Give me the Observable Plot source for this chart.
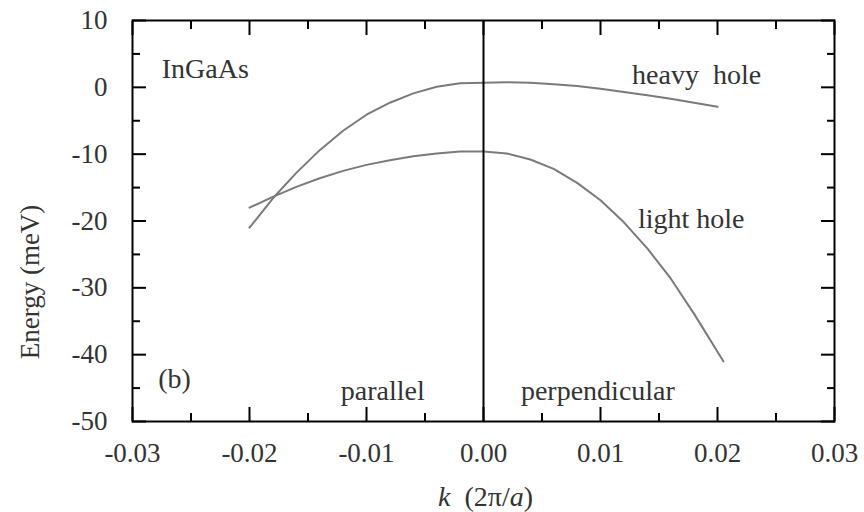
<!DOCTYPE html>
<html>
<head>
<meta charset="utf-8">
<script src="https://cdn.jsdelivr.net/npm/d3@7"></script>
<script src="https://cdn.jsdelivr.net/npm/@observablehq/plot@0.6"></script>
<style>
  html, body { margin: 0; padding: 0; background: #fff; }
  #chart svg { display: block; }
</style>
</head>
<body>
<div id="chart"></div>
<script>
// ---- data ----
const kParallel = [-0.020, -0.018, -0.016, -0.014, -0.012, -0.010, -0.008, -0.006, -0.004, -0.002, 0.000];
const heavyParallel = [-21.0, -16.6, -12.8, -9.4, -6.5, -4.1, -2.3, -0.9, 0.1, 0.6, 0.7];
const lightParallel = [-18.0, -16.4, -14.9, -13.6, -12.5, -11.6, -10.9, -10.3, -9.9, -9.6, -9.6];

const kPerpHeavy = [0.000, 0.002, 0.004, 0.006, 0.008, 0.010, 0.012, 0.014, 0.016, 0.018, 0.020];
const heavyPerp = [0.7, 0.75, 0.7, 0.45, 0.2, -0.2, -0.7, -1.2, -1.7, -2.3, -2.9];
const kPerpLight = [0.000, 0.002, 0.004, 0.006, 0.008, 0.010, 0.012, 0.014, 0.016, 0.018, 0.0205];
const lightPerp = [-9.6, -9.9, -10.8, -12.2, -14.3, -16.9, -20.2, -24.1, -28.6, -33.9, -41.0];

const bands = ["heavy hole", "light hole"];

const xMajorTicks = [-0.03, -0.02, -0.01, 0.00, 0.01, 0.02, 0.03];
const xMinorTicks = [-0.025, -0.015, -0.005, 0.005, 0.015, 0.025];
const xTickLabels = ["-0.03", "-0.02", "-0.01", "0.00", "0.01", "0.02", "0.03"];
const yMajorTicks = [-50, -40, -30, -20, -10, 0, 10];
const yMinorTicks = [-45, -35, -25, -15, -5, 5];
const yTickLabels = ["-50", "-40", "-30", "-20", "-10", "0", "10"];

const xTitle = "k  (2π/a)";
const yTitle = "Energy (meV)";
const annotations = ["InGaAs", "heavy  hole", "light hole", "(b)", "parallel", "perpendicular"];

// ---- build rows ----
const rows = [];
kParallel.forEach((k, i) => rows.push({band: bands[0], k, E: heavyParallel[i]}));
kPerpHeavy.slice(1).forEach((k, i) => rows.push({band: bands[0], k, E: heavyPerp[i + 1]}));
kParallel.forEach((k, i) => rows.push({band: bands[1], k, E: lightParallel[i]}));
kPerpLight.slice(1).forEach((k, i) => rows.push({band: bands[1], k, E: lightPerp[i + 1]}));

const xLabelOf = new Map(xMajorTicks.map((v, i) => [v, xTickLabels[i]]));
const yLabelOf = new Map(yMajorTicks.map((v, i) => [v, yTickLabels[i]]));

const serif = "'Liberation Serif', 'Times New Roman', serif";
const textColor = "#333";
const tickFs = 27;
const annFs = 28;

const annX = [-0.0275, 0.0127, 0.0132, -0.0278, -0.0122, 0.0032];
const annY = [2.76, 1.86, -19.7, -43.7, -45.5, -45.5];
const annRows = annotations.map((t, i) => ({t, x: annX[i], y: annY[i]}));

const tickStyle = {stroke: "black", strokeWidth: 2, tickFormat: () => "", label: null};

const plot = Plot.plot({
  width: 864,
  height: 512,
  marginLeft: 132,
  marginRight: 30,
  marginTop: 20,
  marginBottom: 91,
  style: {background: "white"},
  x: {domain: [-0.03, 0.03]},
  y: {domain: [-50, 10]},
  marks: [
    // inward ticks on all four sides
    Plot.axisX(xMajorTicks, {anchor: "bottom", tickSize: -14, ...tickStyle}),
    Plot.axisX(xMinorTicks, {anchor: "bottom", tickSize: -8, ...tickStyle}),
    Plot.axisX(xMajorTicks, {anchor: "top", tickSize: -14, ...tickStyle}),
    Plot.axisX(xMinorTicks, {anchor: "top", tickSize: -8, ...tickStyle}),
    Plot.axisY(yMajorTicks, {anchor: "left", tickSize: -14, ...tickStyle}),
    Plot.axisY(yMinorTicks, {anchor: "left", tickSize: -8, ...tickStyle}),
    Plot.axisY(yMajorTicks, {anchor: "right", tickSize: -14, ...tickStyle}),
    Plot.axisY(yMinorTicks, {anchor: "right", tickSize: -8, ...tickStyle}),
    // tick labels
    Plot.axisX(xMajorTicks, {anchor: "bottom", tickSize: 0, tickPadding: 21, tickFormat: d => xLabelOf.get(d),
      fontSize: tickFs, fill: textColor, label: null}),
    Plot.axisY(yMajorTicks, {anchor: "left", tickSize: 0, tickPadding: 25, tickFormat: d => yLabelOf.get(d),
      fontSize: tickFs, fill: textColor, label: null}),
    // curves
    Plot.line(rows, {x: "k", y: "E", z: "band", stroke: "#7a7a7a", strokeWidth: 2, curve: "linear"}),
    // k = 0 divider
    Plot.ruleX([0], {stroke: "black", strokeWidth: 2}),
    Plot.frame({stroke: "black", strokeWidth: 2}),
    // annotations
    Plot.text(annRows, {x: "x", y: "y", text: "t", textAnchor: "start", lineAnchor: "middle",
      fontSize: annFs, fill: textColor}),
    // axis titles
    Plot.text([yTitle], {frameAnchor: "left", dx: -102, dy: 61, rotate: -90, fontSize: 27, fill: textColor,
      textAnchor: "middle", lineAnchor: "middle"}),
    Plot.text([xTitle], {frameAnchor: "bottom", dx: 2, dy: 76, fontSize: 28, fill: textColor,
      textAnchor: "middle", lineAnchor: "middle"})
  ]
});

document.getElementById("chart").appendChild(plot);

// serif font on every text element
d3.select(plot).attr("font-family", serif).style("font-family", serif);
d3.select(plot).selectAll("g").attr("font-family", null);
d3.select(plot).selectAll("text").style("font-family", serif);

// italicize k and a in the x-axis title
d3.select(plot).selectAll("text").each(function () {
  if (this.textContent === xTitle) {
    const t = d3.select(this);
    t.text(null);
    t.append("tspan").attr("font-style", "italic").text("k");
    t.append("tspan").text("  (2π/");
    t.append("tspan").attr("font-style", "italic").text("a");
    t.append("tspan").text(")");
    t.attr("xml:space", "preserve").style("white-space", "pre");
  }
});
</script>
</body>
</html>
